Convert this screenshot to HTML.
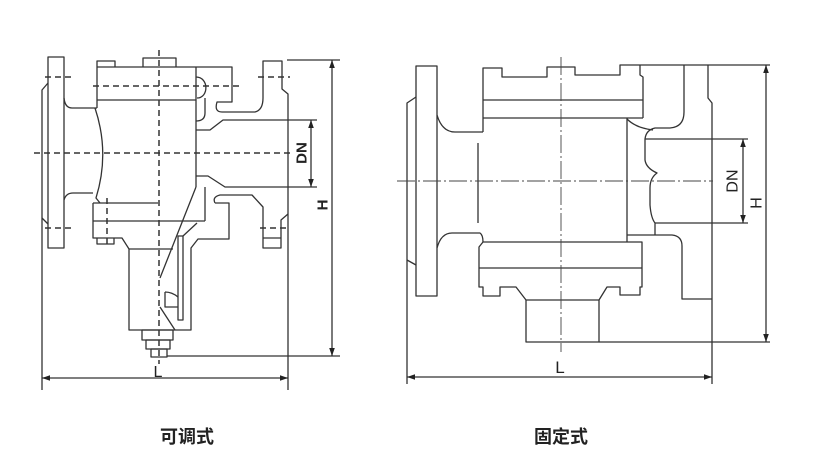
<!DOCTYPE html>
<html><head><meta charset="utf-8"><style>
html,body{margin:0;padding:0;background:#fff;}
svg{display:block;}
text{font-family:"Liberation Sans","Noto Sans CJK SC",sans-serif;fill:#222;}
</style></head><body>
<svg width="826" height="470" viewBox="0 0 826 470" xmlns="http://www.w3.org/2000/svg">
<defs>
<marker id="a" viewBox="0 0 10 10" refX="10" refY="5" markerWidth="8" markerHeight="8" orient="auto-start-reverse" markerUnits="userSpaceOnUse"><path d="M0,1.5 L10,5 L0,8.5 Z" fill="#222"/></marker>
</defs>
<g fill="none" stroke="#333" stroke-width="1.3" stroke-linejoin="round">
<!-- ============ LEFT DRAWING ============ -->
<rect x="48" y="57" width="16" height="191"/>
<path d="M48,83 L42,90 L42,390"/>
<path d="M42,218 L48,224"/>
<path d="M64,98 Q65,108 72,108 L97,108"/>
<path d="M64,200 Q66,193 73,193 L93,193"/>
<path d="M95,108 Q110,153 96,198 L100,203"/>
<path d="M97,108 L97,61 L115,61 L115,67"/>
<path d="M143,67 L143,58 L176,58 L176,67"/>
<path d="M97,67 L232,67 L232,102 L217,102 Q214,112 222,112 L255,112 Q263,110 263,98 L263,61 L282,61 L282,89 L288,94 L288,390"/>
<path d="M97,100 L196,100"/>
<path d="M196,67 L196,187"/>
<path d="M196,77 C209,77 209,98 197,98"/>
<path d="M205,98 L205,113 Q205,121 196,121"/>
<path d="M196,130 L210,130 L223,120 L317,120"/>
<path d="M196,176 L208,176 L225,187 L317,187"/>
<path d="M215,203 Q212,197 220,195 L252,195 L263,207 L263,248 L281,248 L281,220 L288,214"/>
<path d="M263,238 L281,238"/>
<path d="M93,203 L158,203"/>
<path d="M93,203 L93,238 L122,238 L129,249 L129,330 L191,330 L191,248 L198,239 L229,239 L229,203 L215,203"/>
<path d="M93,221 L205,221"/>
<path d="M205,187 L205,221"/>
<path d="M97,238 L97,244 L114,244 L114,238"/>
<path d="M129,249 L173,249"/>
<path d="M196,187 L160,278"/>
<path d="M183,236 L197,223"/>
<path d="M178,320 L178,236 L183,236 L183,320 Z"/>
<path d="M165,292 L165,307 L178,307"/>
<path d="M165,292 Q172,292 178,297"/>
<path d="M160,307 L175,330"/>
<rect x="142" y="330" width="31" height="10"/>
<rect x="146" y="340" width="24" height="9"/>
<rect x="151" y="349" width="16" height="8"/>
<path d="M287,60 L340,60"/>
<path d="M167,356 L340,356"/>
<path d="M332,60 L332,356" marker-start="url(#a)" marker-end="url(#a)"/>
<path d="M311,120 L311,187" marker-start="url(#a)" marker-end="url(#a)"/>
<path d="M42,378 L288,378" marker-start="url(#a)" marker-end="url(#a)"/>

<!-- ============ RIGHT DRAWING ============ -->
<rect x="416" y="66" width="21" height="230"/>
<path d="M416,97 L407,103 L407,384"/>
<path d="M407,260 L416,265"/>
<path d="M437,115 Q442,132 455,132 L483,132"/>
<path d="M437,248 Q441,233 452,233 L480,233 Q483,235 483,242"/>
<path d="M483,132 L483,68 L502,68 L502,77 L547,77 L547,67 L575,67 L575,75 L620,75 L620,65 L770,65"/>
<path d="M640,65 L640,75 L643,77 L643,118"/>
<path d="M483,100 L643,100"/>
<path d="M483,118 L643,118"/>
<path d="M684,65 L684,112 Q684,127 670,128 L655,128 Q646,130 645,139 L645,160 Q646,168 657,173 Q650,178 650,188 L650,205 Q651,218 655,223 L655,235"/>
<path d="M627,119 Q636,128 653,130"/>
<path d="M708,65 L708,98 L712,103 L712,384"/>
<path d="M627,118 L627,242"/>
<path d="M627,235 L672,235 Q682,236 682,246 L682,299 L712,299"/>
<path d="M478,143 L478,223"/>
<path d="M483,242 L642,242 L642,287 L640,287 L640,295 L620,295 L620,287 L607,287 L599,300 L526,300 L516,287 L500,287 L500,296 L483,296 L483,287 L479,287 L479,247 L483,242"/>
<path d="M479,268 L642,268"/>
<path d="M526,300 L526,342 L599,342 L599,300"/>
<path d="M599,342 L770,342"/>
<path d="M645,139 L748,139"/>
<path d="M655,223 L748,223"/>
<path d="M743,139 L743,223" marker-start="url(#a)" marker-end="url(#a)"/>
<path d="M766,65 L766,342" marker-start="url(#a)" marker-end="url(#a)"/>
<path d="M407,377 L712,377" marker-start="url(#a)" marker-end="url(#a)"/>
</g>

<g fill="none" stroke="#333" stroke-width="1.5" stroke-dasharray="6,4">
<path d="M34,153 L292,153"/>
<path d="M159,50 L159,364"/>
<path d="M93,86 L240,86"/>
<path d="M45,77 L72,77"/>
<path d="M258,77 L290,77"/>
<path d="M45,228 L72,228"/>
<path d="M260,228 L290,228"/>
<path d="M107,198 L107,248"/>
</g>
<g fill="none" stroke="#444" stroke-width="0.9" stroke-dasharray="18,3,2,3">
<path d="M397,181 L713,181"/>
<path d="M561,57 L561,352"/>
</g>

<text x="302" y="153" font-size="15" font-weight="bold" text-anchor="middle" dominant-baseline="central" transform="rotate(-90 302 153)">DN</text>
<text x="323" y="205" font-size="15" font-weight="bold" text-anchor="middle" dominant-baseline="central" transform="rotate(-90 323 205)">H</text>
<text x="158" y="377" font-size="16" text-anchor="middle">L</text>
<text x="733" y="181" font-size="16" text-anchor="middle" dominant-baseline="central" transform="rotate(-90 733 181)">DN</text>
<text x="757" y="203" font-size="16" text-anchor="middle" dominant-baseline="central" transform="rotate(-90 757 203)">H</text>
<text x="560" y="373" font-size="17" text-anchor="middle">L</text>
<text x="187" y="443" font-size="18" font-weight="bold" text-anchor="middle">可调式</text>
<text x="561" y="443" font-size="18" font-weight="bold" text-anchor="middle">固定式</text>
</svg>
</body></html>
